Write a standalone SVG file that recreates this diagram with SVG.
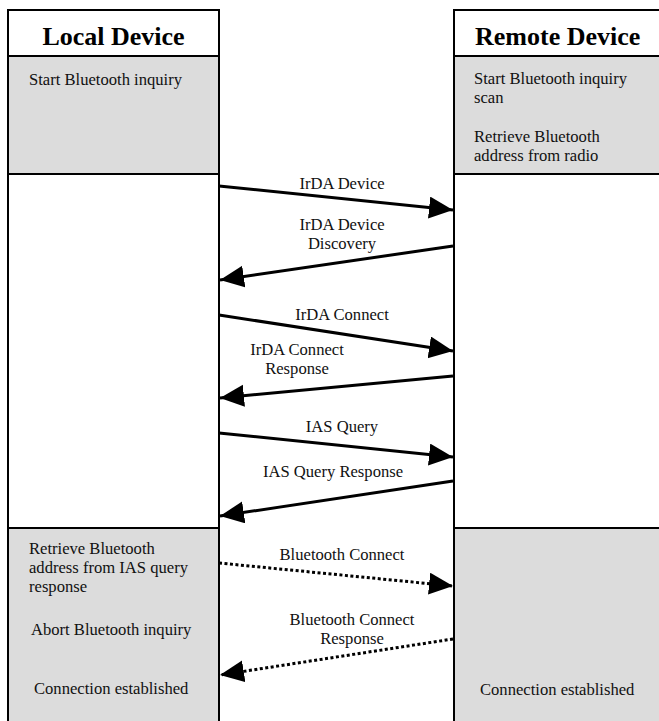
<svg xmlns="http://www.w3.org/2000/svg" width="659" height="721" viewBox="0 0 659 721">
<style>
.hdr{font-family:"Liberation Serif","Times New Roman",serif;font-weight:bold;font-size:26px;fill:#000}
.t{font-family:"Liberation Serif","Times New Roman",serif;font-size:16.6px;fill:#111}
.m{text-anchor:middle}
.gray{fill:#dcdcdc;stroke:none}
.white{fill:#fff;stroke:none}
.bd{stroke:#000;stroke-width:2;fill:none}
.a{stroke:#000;stroke-width:3;fill:none;marker-end:url(#ah)}
.d{stroke:#000;stroke-width:3;fill:none;stroke-dasharray:3 2.5;marker-end:url(#ah)}
</style>
<defs>
<marker id="ah" markerUnits="userSpaceOnUse" markerWidth="26" markerHeight="24" refX="24" refY="11" orient="auto">
<path d="M0,0 L24,11 L0,22 z" fill="#000"/>
</marker>
</defs>
<rect x="0" y="0" width="659" height="721" fill="#fff"/>
<g id="local-device">
<rect class="white" x="8" y="10" width="211" height="46"/>
<rect class="gray" x="8" y="56" width="211" height="118"/>
<rect class="white" x="8" y="174" width="211" height="354"/>
<rect class="gray" x="8" y="528" width="211" height="200"/>
<line class="bd" x1="8" y1="9" x2="8" y2="721"/>
<line class="bd" x1="219" y1="9" x2="219" y2="721"/>
<line class="bd" x1="7" y1="10" x2="220" y2="10"/>
<line class="bd" x1="7" y1="56" x2="220" y2="56"/>
<line class="bd" x1="7" y1="174" x2="220" y2="174"/>
<line class="bd" x1="7" y1="528" x2="220" y2="528"/>
<text class="hdr m" x="113.5" y="45">Local Device</text>
<text class="t" x="29" y="85">Start Bluetooth inquiry</text>
<text class="t" x="29" y="554">Retrieve Bluetooth</text>
<text class="t" x="29" y="573">address from IAS query</text>
<text class="t" x="29" y="592">response</text>
<text class="t" x="31" y="635">Abort Bluetooth inquiry</text>
<text class="t" x="34" y="694">Connection established</text>
</g>
<g id="remote-device">
<rect class="white" x="454" y="10" width="210" height="46"/>
<rect class="gray" x="454" y="56" width="210" height="118"/>
<rect class="white" x="454" y="174" width="210" height="354"/>
<rect class="gray" x="454" y="528" width="210" height="200"/>
<line class="bd" x1="454" y1="9" x2="454" y2="721"/>
<line class="bd" x1="453" y1="10" x2="665" y2="10"/>
<line class="bd" x1="453" y1="56" x2="665" y2="56"/>
<line class="bd" x1="453" y1="174" x2="665" y2="174"/>
<line class="bd" x1="453" y1="528" x2="665" y2="528"/>
<text class="hdr" x="475" y="45">Remote Device</text>
<text class="t" x="474" y="84">Start Bluetooth inquiry</text>
<text class="t" x="474" y="103">scan</text>
<text class="t" x="474" y="142">Retrieve Bluetooth</text>
<text class="t" x="474" y="161">address from radio</text>
<text class="t" x="480" y="695">Connection established</text>
</g>
<g id="connectors">
<line class="a" x1="219" y1="186" x2="453" y2="210"/>
<line class="a" x1="453" y1="246" x2="220" y2="280"/>
<line class="a" x1="219" y1="315" x2="453" y2="351"/>
<line class="a" x1="453" y1="376" x2="220" y2="398"/>
<line class="a" x1="219" y1="433" x2="453" y2="457"/>
<line class="a" x1="453" y1="481" x2="220" y2="516"/>
<line class="d" x1="219" y1="563" x2="453" y2="586"/>
<line class="d" x1="453" y1="639" x2="220" y2="675"/>
<text class="t m" x="342" y="189">IrDA Device</text>
<text class="t m" x="342" y="230">IrDA Device</text>
<text class="t m" x="342" y="249">Discovery</text>
<text class="t m" x="342" y="320">IrDA Connect</text>
<text class="t m" x="297" y="355">IrDA Connect</text>
<text class="t m" x="297" y="374">Response</text>
<text class="t m" x="342" y="432">IAS Query</text>
<text class="t m" x="333" y="477">IAS Query Response</text>
<text class="t m" x="342" y="560">Bluetooth Connect</text>
<text class="t m" x="352" y="625">Bluetooth Connect</text>
<text class="t m" x="352" y="644">Response</text>
</g>
</svg>
